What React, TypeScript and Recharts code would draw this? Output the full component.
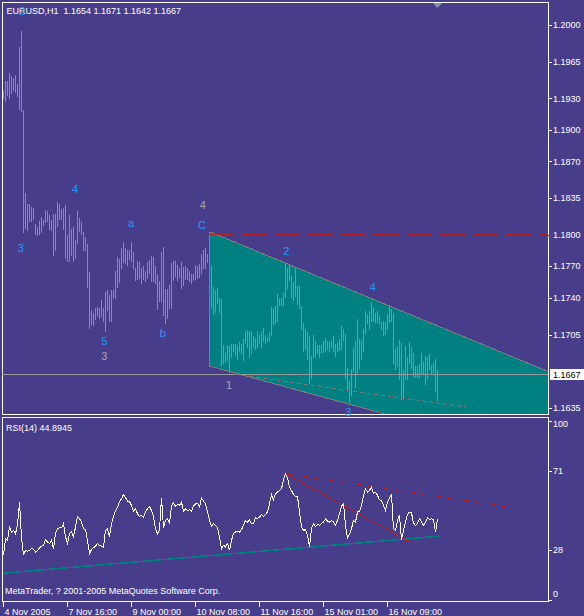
import React from 'react';
import { ComposedChart, Bar, Area, Line, XAxis, YAxis, ReferenceLine, ReferenceDot } from 'recharts';

// EURUSD H1, one [low, high] pair per hourly bar
const HIGH = [
  1.1937, 1.1947, 1.1947, 1.1954, 1.1951, 1.1949, 1.1952, 1.1944, 1.1979, 1.1994,
  1.1919, 1.1840, 1.1829, 1.1829, 1.1827, 1.1826, 1.1810, 1.1807, 1.1813, 1.1817,
  1.1814, 1.1824, 1.1823, 1.1819, 1.1814, 1.1820, 1.1820, 1.1831, 1.1829, 1.1825,
  1.1826, 1.1828, 1.1800, 1.1819, 1.1806, 1.1807, 1.1795, 1.1823, 1.1816, 1.1812,
  1.1803, 1.1798, 1.1791, 1.1765, 1.1728, 1.1726, 1.1730, 1.1731, 1.1730, 1.1738,
  1.1730, 1.1746, 1.1747, 1.1743, 1.1747, 1.1747, 1.1766, 1.1779, 1.1777, 1.1787,
  1.1793, 1.1787, 1.1786, 1.1786, 1.1793, 1.1784, 1.1768, 1.1775, 1.1774, 1.1768,
  1.1770, 1.1766, 1.1774, 1.1776, 1.1780, 1.1779, 1.1770, 1.1763, 1.1756, 1.1784,
  1.1788, 1.1748, 1.1748, 1.1752, 1.1773, 1.1775, 1.1775, 1.1771, 1.1768, 1.1774,
  1.1769, 1.1770, 1.1768, 1.1766, 1.1763, 1.1763, 1.1771, 1.1770, 1.1772, 1.1782,
  1.1786, 1.1787, 1.1782, 1.1799, 1.1770, 1.1750, 1.1747, 1.1749, 1.1740, 1.1739,
  1.1695, 1.1688, 1.1695, 1.1694, 1.1696, 1.1696, 1.1696, 1.1694, 1.1698, 1.1696,
  1.1701, 1.1707, 1.1709, 1.1708, 1.1707, 1.1704, 1.1702, 1.1707, 1.1705, 1.1707,
  1.1711, 1.1705, 1.1703, 1.1707, 1.1731, 1.1729, 1.1732, 1.1744, 1.1740, 1.1740,
  1.1745, 1.1772, 1.1768, 1.1771, 1.1761, 1.1755, 1.1768, 1.1751, 1.1751, 1.1732,
  1.1716, 1.1710, 1.1707, 1.1704, 1.1685, 1.1705, 1.1699, 1.1695, 1.1695, 1.1695,
  1.1699, 1.1702, 1.1699, 1.1698, 1.1699, 1.1704, 1.1696, 1.1697, 1.1701, 1.1713,
  1.1710, 1.1706, 1.1673, 1.1661, 1.1672, 1.1692, 1.1699, 1.1720, 1.1701, 1.1700,
  1.1710, 1.1727, 1.1725, 1.1727, 1.1736, 1.1730, 1.1726, 1.1727, 1.1723, 1.1717,
  1.1718, 1.1717, 1.1725, 1.1731, 1.1729, 1.1726, 1.1691, 1.1693, 1.1700, 1.1697,
  1.1671, 1.1694, 1.1684, 1.1698, 1.1693, 1.1687, 1.1675, 1.1675, 1.1677, 1.1687,
  1.1680, 1.1685, 1.1684, 1.1686, 1.1676, 1.1678, 1.1682, 1.1671,
];

const LOW = [
  1.1929, 1.1927, 1.1932, 1.1929, 1.1934, 1.1937, 1.1935, 1.1931, 1.1919, 1.1917,
  1.1802, 1.1806, 1.1804, 1.1812, 1.1812, 1.1814, 1.1800, 1.1799, 1.1800, 1.1802,
  1.1808, 1.1811, 1.1812, 1.1805, 1.1804, 1.1780, 1.1785, 1.1807, 1.1814, 1.1814,
  1.1805, 1.1777, 1.1774, 1.1774, 1.1780, 1.1774, 1.1777, 1.1791, 1.1803, 1.1800,
  1.1785, 1.1785, 1.1749, 1.1710, 1.1714, 1.1713, 1.1719, 1.1723, 1.1720, 1.1722,
  1.1717, 1.1707, 1.1727, 1.1717, 1.1717, 1.1740, 1.1739, 1.1749, 1.1754, 1.1767,
  1.1773, 1.1772, 1.1770, 1.1776, 1.1774, 1.1767, 1.1756, 1.1757, 1.1758, 1.1753,
  1.1757, 1.1755, 1.1758, 1.1763, 1.1755, 1.1755, 1.1753, 1.1728, 1.1736, 1.1736,
  1.1723, 1.1715, 1.1720, 1.1729, 1.1729, 1.1756, 1.1760, 1.1756, 1.1759, 1.1748,
  1.1751, 1.1757, 1.1757, 1.1755, 1.1753, 1.1756, 1.1757, 1.1758, 1.1759, 1.1763,
  1.1767, 1.1767, 1.1773, 1.1738, 1.1730, 1.1724, 1.1726, 1.1734, 1.1726, 1.1675,
  1.1677, 1.1678, 1.1680, 1.1668, 1.1683, 1.1688, 1.1685, 1.1681, 1.1688, 1.1686,
  1.1680, 1.1696, 1.1692, 1.1683, 1.1686, 1.1692, 1.1690, 1.1692, 1.1696, 1.1692,
  1.1698, 1.1696, 1.1698, 1.1698, 1.1704, 1.1714, 1.1715, 1.1717, 1.1732, 1.1732,
  1.1732, 1.1740, 1.1748, 1.1756, 1.1740, 1.1737, 1.1741, 1.1733, 1.1729, 1.1709,
  1.1688, 1.1690, 1.1681, 1.1658, 1.1663, 1.1683, 1.1684, 1.1686, 1.1683, 1.1687,
  1.1687, 1.1688, 1.1690, 1.1688, 1.1692, 1.1688, 1.1684, 1.1688, 1.1689, 1.1690,
  1.1699, 1.1663, 1.1652, 1.1640, 1.1646, 1.1669, 1.1654, 1.1668, 1.1672, 1.1681,
  1.1688, 1.1706, 1.1715, 1.1709, 1.1717, 1.1717, 1.1716, 1.1716, 1.1715, 1.1709,
  1.1704, 1.1705, 1.1709, 1.1716, 1.1717, 1.1677, 1.1671, 1.1674, 1.1662, 1.1643,
  1.1644, 1.1662, 1.1662, 1.1677, 1.1672, 1.1665, 1.1664, 1.1664, 1.1664, 1.1666,
  1.1667, 1.1657, 1.1663, 1.1671, 1.1667, 1.1668, 1.1650, 1.1642,
];

const LAST_OPEN = 1.1654;
const LAST_CLOSE = 1.1667;

// RSI(14), one value per bar
const RSI = [
  25.0, 34.1, 33.2, 40.4, 37.7, 38.6, 36.8, 41.4, 54.0, 35.0,
  25.0, 27.7, 27.2, 27.7, 28.6, 28.3, 26.8, 27.4, 29.2, 29.9,
  30.3, 33.5, 32.3, 31.4, 33.2, 28.6, 36.8, 39.5, 40.0, 40.0,
  42.3, 35.0, 31.7, 36.8, 37.7, 35.0, 40.4, 46.2, 45.0, 43.1,
  39.5, 39.0, 33.2, 25.9, 28.1, 29.2, 29.9, 31.4, 30.3, 29.9,
  29.5, 38.6, 39.5, 35.0, 42.3, 46.2, 49.1, 51.3, 54.0, 55.9,
  58.2, 56.4, 54.6, 54.4, 52.2, 49.1, 50.4, 47.7, 46.2, 46.8,
  45.9, 48.6, 50.4, 51.7, 49.5, 45.9, 39.5, 36.8, 39.0, 56.4,
  40.0, 44.1, 45.0, 42.3, 52.2, 53.5, 51.7, 52.8, 52.2, 54.0,
  49.1, 50.4, 49.5, 49.9, 49.1, 52.0, 53.1, 53.5, 51.3, 56.4,
  54.6, 53.1, 48.6, 44.1, 40.8, 42.3, 41.4, 40.0, 35.0, 28.6,
  30.5, 29.5, 31.4, 27.7, 33.2, 36.8, 37.7, 38.2, 37.7, 39.0,
  41.4, 44.1, 43.1, 44.4, 42.3, 42.3, 45.5, 45.0, 45.9, 47.3,
  46.2, 47.3, 48.6, 53.1, 58.2, 55.3, 58.6, 59.5, 60.4, 61.3,
  66.2, 69.5, 67.3, 62.2, 60.4, 58.2, 57.1, 57.1, 48.6, 40.4,
  38.6, 39.0, 35.9, 29.5, 39.5, 42.3, 40.8, 41.9, 41.4, 42.3,
  43.1, 44.8, 43.7, 43.1, 44.1, 43.1, 41.4, 44.1, 47.7, 52.0,
  53.1, 41.4, 34.4, 36.4, 39.5, 44.1, 43.1, 48.6, 49.1, 52.2,
  57.7, 61.3, 59.5, 60.4, 62.2, 59.0, 59.5, 57.7, 55.3, 54.9,
  52.2, 49.5, 54.0, 56.4, 58.2, 39.5, 38.6, 44.1, 46.8, 33.5,
  38.6, 43.1, 47.3, 48.6, 48.1, 42.6, 41.4, 42.3, 45.0, 43.1,
  41.4, 43.1, 45.5, 44.4, 45.0, 44.4, 37.7, 44.8945,
];

const TIME_TICKS = [0, 32, 64, 96, 128, 160, 192];
const TIME_LABELS = ['4 Nov 2005', '7 Nov 16:00', '9 Nov 00:00', '10 Nov 08:00', '11 Nov 16:00', '15 Nov 01:00', '16 Nov 09:00'];
const PRICE_TICKS = [1.2, 1.1965, 1.193, 1.19, 1.187, 1.1835, 1.18, 1.177, 1.174, 1.1705, LAST_CLOSE, 1.1635];
const RSI_TICKS = [100, 71, 28, 0];

// drawn objects: anchor points as (bar index, price)
const TRI_X = [103, 272];
const TRI_UPPER = [1.1803, 1.167];
const TRI_LOWER = [1.1675, 1.1587];
const RESIST_LEVEL = 1.18;
const RESIST_FROM = 102.75;
const MID_LINE = [{ x: 115.75, y: 1.1667 }, { x: 231.25, y: 1.1636 }];

const RSI_SUPPORT = [{ x: -0.25, y: 15.2 }, { x: 217.6, y: 35.4 }];
const RSI_FALL = [{ x: 141.25, y: 69.5 }, { x: 203.25, y: 32.3 }];
const RSI_RESIST = [{ x: 141.25, y: 69.5 }, { x: 253, y: 51.3 }];

// Elliott wave marks: 'minor' in blue, 'major' in grey
const WAVES = [
  { i: 9.25, p: 1.2013, t: '2', d: 'minor' },
  { i: 8.6, p: 1.1787, t: '3', d: 'minor' },
  { i: 35.75, p: 1.1844, t: '4', d: 'minor' },
  { i: 63.75, p: 1.1811, t: 'a', d: 'minor' },
  { i: 50.4, p: 1.1699, t: '5', d: 'minor' },
  { i: 50.4, p: 1.1684, t: '3', d: 'major' },
  { i: 79.6, p: 1.1706, t: 'b', d: 'minor' },
  { i: 99.6, p: 1.1828, t: '4', d: 'major' },
  { i: 99.25, p: 1.1809, t: 'C', d: 'minor' },
  { i: 112.75, p: 1.1657, t: '1', d: 'major' },
  { i: 141.4, p: 1.1784, t: '2', d: 'minor' },
  { i: 184.6, p: 1.175, t: '4', d: 'minor' },
  { i: 172.4, p: 1.1631, t: '3', d: 'minor' },
];

const BG = '#483D8B';
const GREEN = '#32CD32';
const TEAL = '#008080';
const RED = '#B22222';
const EDGE = '#7f7f7f';
const FONT = '"Liberation Sans", Arial, sans-serif';
const X_DOMAIN: [number, number] = [-0.75, 272.25];
const PRICE_DOMAIN: [number, number] = [1.16293, 1.20209];
const MAIN_MARGIN = { top: 3, right: 0, bottom: 2, left: 2 };

const priceRows = HIGH.map((h, i) => ({ i, hl: [LOW[i], h] }));
const triRows = TRI_X.map((x, k) => ({ i: x, band: [TRI_LOWER[k], TRI_UPPER[k]] }));
const rsiRows = RSI.map((v, i) => ({ i, rsi: v }));

const last = HIGH.length - 1;
const title = `EURUSD,H1  ${LAST_OPEN.toFixed(4)} ${HIGH[last].toFixed(4)} ${LOW[last].toFixed(4)} ${LAST_CLOSE.toFixed(4)}`;

function PriceTick(props: any) {
  const { y, payload } = props;
  const v = payload.value as number;
  const yy = Math.round(y) + 0.5;
  if (v === LAST_CLOSE) {
    return (
      <g>
        <rect x={550} y={Math.round(y) - 5} width={34} height={11} fill="#fff" />
        <text x={553} y={y} dy="0.35em" fill="#000" fontSize={9} fontFamily={FONT}>{v.toFixed(4)}</text>
      </g>
    );
  }
  return (
    <g>
      <line x1={548} x2={552} y1={yy} y2={yy} stroke={v === RESIST_LEVEL ? RED : '#fff'} />
      <text x={553} y={y} dy="0.35em" fill="#fff" fontSize={9} fontFamily={FONT}>{v.toFixed(4)}</text>
    </g>
  );
}

function RsiTick(props: any) {
  const { y, payload } = props;
  const ly = Math.min(Math.max(y, 8), 178);
  const ty = Math.round(Math.min(Math.max(y, 5), 184)) + 0.5;
  return (
    <g>
      <line x1={548} x2={552} y1={ty} y2={ty} stroke="#fff" />
      <text x={553} y={ly} dy="0.35em" fill="#fff" fontSize={9} fontFamily={FONT}>{payload.value}</text>
    </g>
  );
}

function TimeTick(props: any) {
  const { x, payload } = props;
  const xx = Math.round(x) - 0.5;
  const label = TIME_LABELS[TIME_TICKS.indexOf(payload.value)];
  return (
    <g>
      <line x1={xx} x2={xx} y1={186} y2={191} stroke="#fff" />
      <text x={xx + 1} y={199} fill="#fff" fontSize={9} fontFamily={FONT}>{label}</text>
    </g>
  );
}

function WaveMark(props: any, text: string, color: string) {
  return (
    <text x={props.cx} y={props.cy} dy="0.35em" textAnchor="middle" fill={color} fontSize={11} fontFamily={FONT}>
      {text}
    </text>
  );
}

export default function App() {
  return (
    <div className="mt" style={{ position: 'absolute', left: 0, top: 0, width: 584, height: 616, background: BG, overflow: 'hidden' }}>
      <style>{`.mt .recharts-wrapper path, .mt .recharts-wrapper line, .mt .recharts-wrapper rect { shape-rendering: crispEdges; }`}</style>

      {/* window frames and captions */}
      <svg width={584} height={616} style={{ position: 'absolute', left: 0, top: 0 }}>
        <rect x={2.5} y={2.5} width={546} height={412} fill="none" stroke="#fff" />
        <rect x={2.5} y={417.5} width={546} height={184} fill="none" stroke="#fff" />
        <polygon points="433,3 442,3 437.5,8" fill="#7B95A6" />
        <text x={6.5} y={14} fill="#fff" fontSize={9} fontFamily={FONT} style={{ whiteSpace: 'pre' }}>{title}</text>
        <text x={6} y={430.5} fill="#fff" fontSize={9} fontFamily={FONT}>{`RSI(14) ${RSI[RSI.length - 1].toFixed(4)}`}</text>
        <text x={5} y={594} fill="#fff" fontSize={9} fontFamily={FONT}>MetaTrader, ? 2001-2005 MetaQuotes Software Corp.</text>
      </svg>

      {/* triangle fill */}
      <div style={{ position: 'absolute', left: 0, top: 0 }}>
        <ComposedChart width={584} height={416} data={triRows} margin={MAIN_MARGIN}>
          <XAxis type="number" dataKey="i" domain={X_DOMAIN} allowDataOverflow hide />
          <YAxis orientation="right" width={36} domain={PRICE_DOMAIN} allowDataOverflow tick={false} axisLine={false} tickLine={false} />
          <Area type="linear" dataKey="band" fill={TEAL} fillOpacity={1} stroke={EDGE} dot={false} activeDot={false} isAnimationActive={false} />
        </ComposedChart>
      </div>

      {/* price bars */}
      <div style={{ position: 'absolute', left: 0, top: 0 }}>
        <ComposedChart width={584} height={416} data={priceRows} margin={MAIN_MARGIN}>
          <XAxis type="number" dataKey="i" domain={X_DOMAIN} allowDataOverflow hide />
          <YAxis
            orientation="right"
            width={36}
            domain={PRICE_DOMAIN}
            allowDataOverflow
            ticks={PRICE_TICKS}
            interval={0}
            axisLine={false}
            tickLine={false}
            tick={PriceTick}
          />
          <ReferenceLine
            segment={[{ x: TRI_X[0], y: TRI_LOWER[0] }, { x: TRI_X[0], y: TRI_UPPER[0] }]}
            stroke={EDGE}
            ifOverflow="hidden"
          />
          <Bar dataKey="hl" fill={GREEN} barSize={1} isAnimationActive={false} />
          <ReferenceLine y={LAST_CLOSE} stroke="#9a9a9a" />
          <ReferenceLine
            segment={[{ x: RESIST_FROM, y: RESIST_LEVEL }, { x: X_DOMAIN[1], y: RESIST_LEVEL }]}
            stroke={RED}
            strokeDasharray="25 8"
            ifOverflow="hidden"
          />
          <ReferenceLine segment={MID_LINE} stroke="#777" strokeDasharray="4 3" ifOverflow="hidden" />
          {WAVES.map((w, k) => (
            <ReferenceDot
              key={k}
              x={w.i}
              y={w.p}
              r={0}
              ifOverflow="hidden"
              shape={(p: any) => WaveMark(p, w.t, w.d === 'minor' ? '#1E9BFF' : '#A8A8A8')}
            />
          ))}
        </ComposedChart>
      </div>

      {/* RSI pane */}
      <div style={{ position: 'absolute', left: 0, top: 416 }}>
        <ComposedChart width={584} height={200} data={rsiRows} margin={{ top: 2, right: 0, bottom: 0, left: 2 }}>
          <XAxis
            type="number"
            dataKey="i"
            domain={X_DOMAIN}
            allowDataOverflow
            ticks={TIME_TICKS}
            interval={0}
            height={15}
            axisLine={false}
            tickLine={false}
            tick={TimeTick}
          />
          <YAxis
            orientation="right"
            width={36}
            domain={[0, 100]}
            ticks={RSI_TICKS}
            interval={0}
            axisLine={false}
            tickLine={false}
            tick={RsiTick}
          />
          <ReferenceLine segment={RSI_SUPPORT} stroke={TEAL} strokeWidth={1.5} ifOverflow="hidden" />
          <ReferenceLine segment={RSI_FALL} stroke={RED} ifOverflow="hidden" />
          <ReferenceLine segment={RSI_RESIST} stroke={RED} strokeDasharray="5 4" ifOverflow="hidden" />
          <Line type="linear" dataKey="rsi" stroke="#fff" strokeWidth={1} dot={false} activeDot={false} isAnimationActive={false} />
        </ComposedChart>
      </div>
    </div>
  );
}
